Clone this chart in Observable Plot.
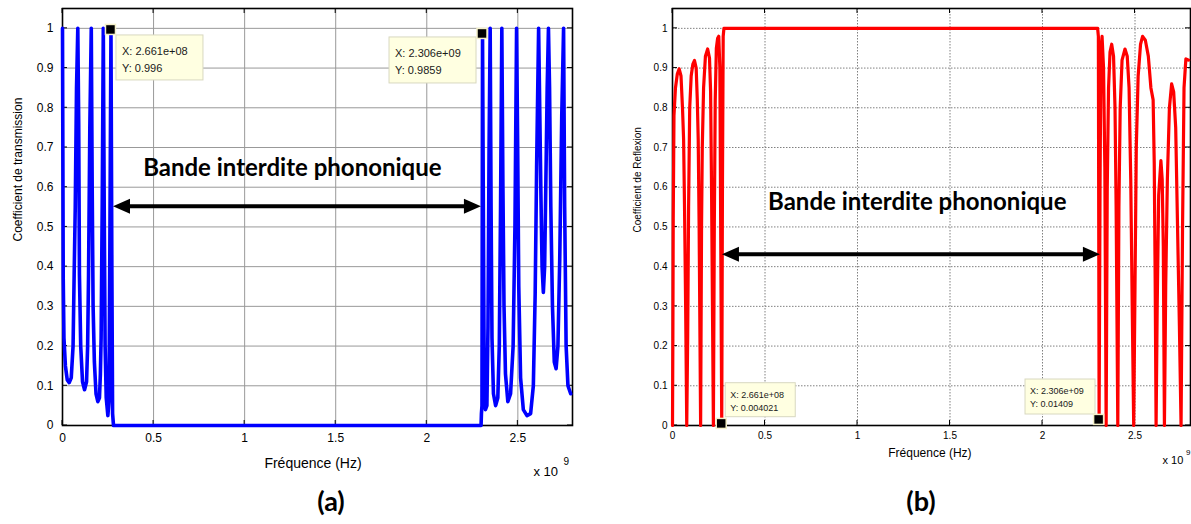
<!DOCTYPE html>
<html><head><meta charset="utf-8">
<script src="https://cdn.jsdelivr.net/npm/d3@7"></script>
<script src="https://cdn.jsdelivr.net/npm/@observablehq/plot@0.6"></script>
<style>
body{margin:0;background:#fff;}
#wrap{position:relative;width:1191px;height:524px;overflow:hidden;background:#fff;}
.panel{position:absolute;top:0;}
.cap{position:absolute;top:484px;font-family:Lato,"Open Sans",sans-serif;font-weight:700;font-size:27px;transform:translateX(-50%);color:#000;}
</style></head><body><div id="wrap"></div>
<script>
// ---- data (frequency in units of 1e9 Hz) ----
const freqT = [0,0.002,0.004,0.008,0.016,0.026,0.037,0.048,0.058,0.064,0.07,0.077,0.084,0.089,0.093,0.1,0.11,0.121,0.132,0.138,0.143,0.15,0.158,0.163,0.168,0.175,0.184,0.194,0.203,0.208,0.212,0.218,0.224,0.229,0.234,0.24,0.249,0.255,0.26,0.2661,0.271,0.275,0.28,
 2.298,2.3,2.303,2.306,2.31,2.315,2.322,2.33,2.336,2.342,2.348,2.353,2.358,2.366,2.378,2.39,2.398,2.405,2.412,2.418,2.424,2.432,2.445,2.46,2.474,2.484,2.493,2.499,2.505,2.515,2.53,2.55,2.57,2.585,2.595,2.603,2.614,2.62,2.626,2.633,2.64,2.647,2.654,2.661,2.668,2.674,2.681,2.69,2.7,2.71,2.72,2.73,2.741,2.751,2.757,2.765,2.775,2.79];
const trans = [1.0,0.69,0.37,0.22,0.15,0.115,0.108,0.12,0.2,0.38,0.55,0.85,1.0,0.76,0.38,0.2,0.11,0.09,0.11,0.2,0.38,0.75,1.0,0.6,0.3,0.16,0.08,0.06,0.07,0.13,0.22,0.55,1.0,0.55,0.2,0.07,0.025,0.06,0.45,0.996,0.4,0.03,0,
 0,0.03,0.05,0.9859,0.6,0.15,0.04,0.05,0.25,0.7,1.0,0.55,0.22,0.08,0.05,0.07,0.2,0.55,1.0,0.6,0.3,0.13,0.06,0.08,0.2,0.5,1.0,0.7,0.35,0.12,0.04,0.025,0.03,0.1,0.33,0.65,1.0,0.8,0.6,0.4,0.335,0.4,0.62,0.85,1.0,0.85,0.55,0.3,0.16,0.143,0.2,0.42,0.78,1.0,0.55,0.2,0.1,0.08];
const freqR = [0,0.002,0.004,0.008,0.016,0.026,0.036,0.046,0.054,0.06,0.065,0.071,0.077,0.082,0.087,0.093,0.101,0.11,0.119,0.128,0.134,0.139,0.144,0.152,0.157,0.161,0.168,0.178,0.19,0.2,0.206,0.211,0.221,0.226,0.231,0.237,0.244,0.25,0.256,0.2661,0.27,0.274,0.278,
 2.298,2.302,2.306,2.311,2.316,2.322,2.33,2.337,2.344,2.35,2.357,2.365,2.374,2.384,2.392,2.398,2.407,2.413,2.42,2.43,2.446,2.458,2.468,2.477,2.485,2.493,2.5,2.507,2.517,2.53,2.541,2.556,2.572,2.586,2.598,2.604,2.609,2.614,2.62,2.628,2.64,2.647,2.653,2.659,2.666,2.675,2.686,2.698,2.709,2.72,2.73,2.74,2.749,2.757,2.765,2.775,2.79];
const refl = [0,0.22,0.52,0.78,0.85,0.885,0.898,0.88,0.8,0.72,0.55,0.3,0,0.22,0.55,0.8,0.88,0.91,0.919,0.9,0.82,0.72,0.5,0,0.5,0.7,0.85,0.93,0.948,0.925,0.84,0.6,0,0.5,0.82,0.95,0.975,0.98,0.9,0.004021,0.6,0.98,1.0,
 1.0,0.98,0.01409,0.6,0.95,0.98,0.9,0.65,0,0.6,0.85,0.94,0.96,0.93,0.8,0.55,0,0.55,0.8,0.92,0.948,0.93,0.85,0.62,0.3,0,0.35,0.7,0.88,0.96,0.98,0.97,0.93,0.85,0.82,0.66,0.37,0,0.3,0.58,0.667,0.62,0.45,0,0.35,0.62,0.8,0.86,0.84,0.75,0.5,0.25,0,0.5,0.85,0.923,0.92];
const xTicks = [0,0.5,1,1.5,2,2.5];
const yTicks = [0,0.1,0.2,0.3,0.4,0.5,0.6,0.7,0.8,0.9,1];
const tipXLabels = ["2.661e+08","2.306e+09"];
const tipTLabels = ["0.996","0.9859"];
const tipRLabels = ["0.004021","0.01409"];
const bandLabel = "Bande interdite phononique";
const arrowTrans = [0.28, 2.30, 0.551];   // x1, x2, y
const arrowRefl  = [0.27, 2.313, 0.43];
const textTrans  = [1.262, 0.647];         // x, y of label centre
const textRefl   = [1.323, 0.562];

const fmt = d => String(+d.toFixed(2));

function tickMark(len) {
  return (index, scales, values, dim) => {
    const L = dim.marginLeft, R = dim.width - dim.marginRight, T = dim.marginTop, B = dim.height - dim.marginBottom;
    const p = d3.path();
    for (const t of xTicks) { const X = scales.x(t); p.moveTo(X, B); p.lineTo(X, B - len); p.moveTo(X, T); p.lineTo(X, T + len); }
    for (const t of yTicks) { const Y = scales.y(t); p.moveTo(L, Y); p.lineTo(L + len, Y); p.moveTo(R, Y); p.lineTo(R - len, Y); }
    const g = d3.create("svg:g");
    g.append("path").attr("d", p.toString()).attr("stroke", "#000").attr("stroke-width", 1).attr("fill", "none");
    return g.node();
  };
}
function arrowMark(a) {
  return (index, scales) => {
    const x1 = scales.x(a[0]), x2 = scales.x(a[1]), y = scales.y(a[2]);
    const hl = 17, hw = 7.5;
    const g = d3.create("svg:g");
    g.append("line").attr("x1", x1 + hl - 2).attr("x2", x2 - hl + 2).attr("y1", y).attr("y2", y)
      .attr("stroke", "#000").attr("stroke-width", 4);
    g.append("path").attr("fill", "#000")
      .attr("d", `M${x1},${y}L${x1 + hl},${y - hw}L${x1 + hl},${y + hw}Z M${x2},${y}L${x2 - hl},${y - hw}L${x2 - hl},${y + hw}Z`);
    return g.node();
  };
}
function tipMark(xl, yl, box, fs, lines) {
  return (index, scales) => {
    const X = scales.x(parseFloat(xl) / 1e9), Y = scales.y(parseFloat(yl));
    const g = d3.create("svg:g");
    g.append("rect").attr("x", X + box[0]).attr("y", Y + box[1]).attr("width", box[2] - box[0]).attr("height", box[3] - box[1])
      .attr("fill", "#ffffe1").attr("stroke", "#d8d8c0").attr("stroke-width", 1);
    const t = g.append("g").attr("font-family", "'Liberation Sans', Arial, sans-serif").attr("font-size", fs)
      .attr("fill", "#1a1a1a").attr("text-anchor", "start");
    t.append("text").attr("x", X + box[0] + lines[0]).attr("y", Y + box[1] + lines[1]).text("X: " + xl);
    t.append("text").attr("x", X + box[0] + lines[0]).attr("y", Y + box[1] + lines[2]).text("Y: " + yl);
    g.append("rect").attr("x", X - 5).attr("y", Y - 5).attr("width", 10).attr("height", 10)
      .attr("fill", "#000").attr("stroke", "#f4f0c8").attr("stroke-width", 1.5);
    return g.node();
  };
}

function panel(c) {
  const data = c.freq.map((f, i) => ({f, v: c.vals[i]}));
  return Plot.plot({
    width: c.width, height: 480,
    marginLeft: c.marginLeft, marginRight: c.marginRight, marginTop: 8, marginBottom: 55,
    style: {fontFamily: "'Liberation Sans', Arial, sans-serif", background: "transparent", color: "#000"},
    x: {domain: [0, 2.8], axis: null},
    y: {domain: [0, 1.05], axis: null},
    marks: [
      Plot.ruleX(xTicks, {stroke: c.grid, strokeWidth: 1, strokeOpacity: 1, strokeDasharray: c.dash}),
      Plot.ruleY(yTicks, {stroke: c.grid, strokeWidth: 1, strokeOpacity: 1, strokeDasharray: c.dash}),
      Plot.frame({stroke: "#000", strokeWidth: 1.6}),
      tickMark(5),
      Plot.line(data, {x: "f", y: "v", stroke: c.color, strokeWidth: c.lw, strokeLinejoin: "round", strokeLinecap: "round"}),
      Plot.axisX({ticks: xTicks, tickSize: 0, tickPadding: c.xpad, tickFormat: fmt, fontSize: c.tfs, label: null}),
      Plot.axisY({ticks: yTicks, tickSize: 0, tickPadding: c.ypad, tickFormat: fmt, fontSize: c.tfs, label: null}),
      Plot.text([c.ylabel], {frameAnchor: "left", text: d => d, rotate: -90, dx: c.ylab[0], dy: c.ylab[1], fontSize: c.yfs, lineAnchor: "middle"}),
      Plot.text(["Fréquence (Hz)"], {frameAnchor: "bottom", text: d => d, dx: c.xlab[0], dy: c.xlab[1], fontSize: c.xfs, lineAnchor: "middle"}),
      Plot.text(["x 10"], {frameAnchor: "bottom-right", text: d => d, textAnchor: "start", dx: c.exp[0], dy: c.exp[1], fontSize: c.xfs - 1, lineAnchor: "middle"}),
      Plot.text(["9"], {frameAnchor: "bottom-right", text: d => d, textAnchor: "start", dx: c.exp[2], dy: c.exp[3], fontSize: c.xfs - 4, lineAnchor: "middle"}),
      tipMark(tipXLabels[0], c.tips[0], c.boxes[0], c.tipfs, c.lines),
      tipMark(tipXLabels[1], c.tips[1], c.boxes[1], c.tipfs, c.lines),
      arrowMark(c.arrow),
      Plot.text([bandLabel], {x: () => c.text[0], y: () => c.text[1], text: d => d, fontSize: 24, fontWeight: 700,
        fontFamily: "Lato, 'Open Sans', sans-serif", lineAnchor: "middle", fill: "#000"})
    ]
  });
}

const wrap = document.getElementById("wrap");
const A = panel({
  width: 600, marginLeft: 62, marginRight: 28, freq: freqT, vals: trans, color: "#0000ff", lw: 3.6,
  grid: "#999999", dash: null, tfs: 12, xpad: 8, ypad: 9, ylabel: "Coefficient de transmission", ylab: [-44, 24.5], yfs: 12,
  xlab: [-4.5, 38], xfs: 14, exp: [-39, 46, -9, 36],
  tips: tipTLabels, boxes: [[5.5, 5.5, 92.5, 50.5], [-93, 3.5, -6, 49.5]], tipfs: 11, lines: [6, 20, 37],
  arrow: arrowTrans, text: textTrans
});
const B = panel({
  width: 591, marginLeft: 72, marginRight: 1, freq: freqR, vals: refl, color: "#ff0000", lw: 3.2,
  grid: "#808080", dash: "1.5,1.5", tfs: 10, xpad: 6, ypad: 5, ylabel: "Coefficient de Reflexion", ylab: [-35, 15.5], yfs: 10,
  xlab: [-1.6, 28], xfs: 12, exp: [-28, 35, -4.5, 27],
  tips: tipRLabels, boxes: [[4, -40.7, 74, -6.7], [-73.6, -40.4, -3.6, -5.4]], tipfs: 9, lines: [5, 15, 28],
  arrow: arrowRefl, text: textRefl
});
A.classList.add("panel"); A.style.left = "0px";
B.classList.add("panel"); B.style.left = "600px";
wrap.appendChild(A); wrap.appendChild(B);
for (const [t, x] of [["(a)", 331], ["(b)", 921]]) {
  const d = document.createElement("div"); d.className = "cap"; d.textContent = t; d.style.left = x + "px"; wrap.appendChild(d);
}
</script></body></html>
